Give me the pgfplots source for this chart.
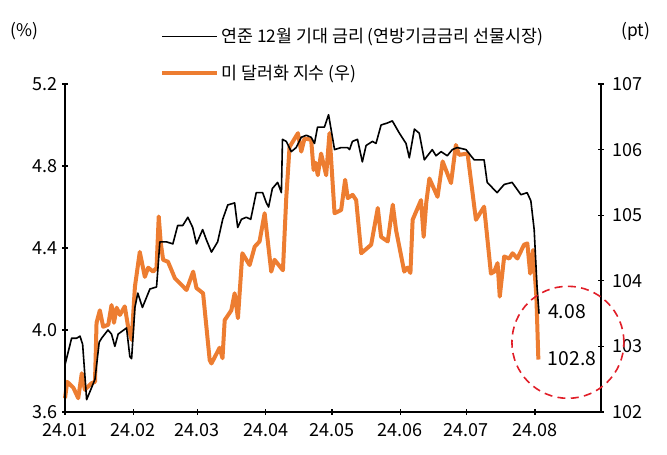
\documentclass[border=0pt]{standalone}
\usepackage{fontspec}
\setmainfont{Noto Sans CJK KR}
\usepackage{pgfplots}
\pgfplotsset{compat=1.18}
\definecolor{dxy}{RGB}{237,125,49}
\definecolor{circ}{RGB}{225,30,40}

% x = days since 2024-01-01
\begin{document}
\begin{tikzpicture}[x=1pt,y=1pt]
\useasboundingbox (-48.75,-31.5) rectangle (451.5,309);
\pgfplotsset{
  common/.style={
    width=402pt, height=246pt, scale only axis,
    at={(0,0)}, anchor=south west,
    xmin=0, xmax=243,
    tick label style={font=\fontsize{13.5}{15}\selectfont},
    /pgf/number format/assume math mode=true,
    tick align=outside, major tick length=4pt,
    tick style={line width=1pt, black},
    clip=false,
  },
  nolinearrows/.style={
    every outer x axis line/.append style={-},
    every outer y axis line/.append style={-},
    every inner x axis line/.append style={-},
    every inner y axis line/.append style={-},
    axis line style={-, line width=1pt},
  },
}
% US dollar index (right axis)
\begin{axis}[common,
  axis x line=none, axis y line=right, nolinearrows,
  ymin=102, ymax=107, ytick={102,103,104,105,106,107},
  yticklabel style={xshift=3pt}]
\addplot[dxy, line width=3pt, line join=round] coordinates {
(0,102.21) (1.0,102.46) (3.8,102.37) (6.0,102.21) (7.6,102.59) (9.0,102.34)
(12.1,102.44) (13.6,102.46) (14.3,103.36) (15.8,103.55) (17.3,103.30) (19.6,103.33)
(21.1,103.63) (22.2,103.36) (23.4,103.59) (24.9,103.48) (27.1,103.61) (28.6,103.30)
(30.2,103.10) (31.7,103.91) (33.9,104.44) (36.2,104.06) (37.7,104.20) (40.0,104.14)
(41.5,104.20) (42.5,104.98) (43.4,104.58) (44.5,104.32) (46.7,104.29) (49.8,104.04)
(55.1,103.86) (58.1,104.14) (59.6,103.89) (62.6,103.81) (65.6,102.79) (66.4,102.74)
(70.1,102.98) (71.4,102.82) (72.4,103.40) (75.4,103.55) (76.9,103.81) (78.4,103.43)
(80.4,104.42) (83.7,104.24) (86.0,104.52) (88.2,104.60) (90.5,105.03) (93.5,104.14)
(95.0,104.32) (98.8,104.16) (100.3,105.26) (101.8,106.04) (105.6,106.25) (107.1,105.97)
(108.6,106.17) (111.6,106.15) (112.7,105.69) (113.6,105.80) (114.6,105.61) (116.1,105.94)
(118.4,105.61) (119.9,106.25) (122.2,105.03) (125.2,105.08) (127.0,105.54) (128.2,105.26)
(130.4,105.31) (132.0,105.23) (134.3,104.42) (138.8,104.55) (141.8,105.11) (143.3,104.67)
(146.3,104.60) (148.6,105.16) (150.1,104.77) (153.8,104.14) (155.2,104.20) (156.6,104.12)
(157.6,104.93) (161.4,105.23) (162.6,104.67) (163.8,105.20) (165.2,105.56) (168.9,105.28)
(171.2,105.82) (175.0,105.49) (177.2,106.07) (178.7,105.92) (182.5,105.94) (186.3,104.93)
(190.0,105.13) (193.1,104.11) (194.6,104.14) (196.1,104.27) (197.1,103.76) (199.1,104.37)
(201.4,104.34) (202.9,104.42) (205.1,104.34) (208.1,104.55) (209.6,104.57) (210.9,104.11)
(212.2,104.47) (213.7,103.76) (214.6,102.80)
};
\node[font=\fontsize{13}{15}\selectfont] at (rel axis cs:1.065,1.16) {(pt)};
\end{axis}
% Fed funds futures implied year-end rate (left axis)
\begin{axis}[common,
  axis x line=bottom, axis y line=left, nolinearrows,
  ymin=3.6, ymax=5.2, ytick={3.6,4.0,4.4,4.8,5.2},
  yticklabel style={/pgf/number format/.cd, fixed, fixed zerofill, precision=1},
  xtick={0,31,60,91,121,152,182,213},
  xticklabels={24.01,24.02,24.03,24.04,24.05,24.06,24.07,24.08},
  xticklabel style={yshift=-3pt},
  legend style={at={(rel axis cs:0.177,1.0)}, anchor=south west, draw=none, fill=none,
    inner sep=0pt, font=\fontsize{13}{15}\selectfont, row sep=11pt, cells={anchor=west}},
  legend image code/.code={\draw[#1] (0pt,0pt) -- (41pt,0pt);},
  ]
\addplot[black, line width=1.2pt, line join=round] coordinates {
(0,3.83) (3.0,3.96) (5.3,3.96) (6.8,3.97) (8.0,3.93) (9.8,3.66) (12.1,3.72) (13.6,3.76)
(15.5,3.94) (16.6,3.96) (19.5,4.00) (21.1,3.98) (22.6,3.92) (24.1,3.98) (27.9,4.01)
(29.4,3.87) (30.2,3.86) (31.7,4.11) (33.0,4.18) (35.1,4.11) (38.5,4.20) (41.5,4.21)
(42.2,4.31) (43.0,4.43) (46.0,4.43) (48.9,4.42) (51.1,4.51) (53.4,4.51) (55.7,4.55)
(57.9,4.50) (59.6,4.42) (62.4,4.49) (64.1,4.44) (66.4,4.38) (69.2,4.43) (71.5,4.54)
(73.8,4.61) (76.9,4.62) (78.3,4.50) (80.0,4.54) (82.2,4.55) (84.2,4.54) (86.7,4.67)
(89.6,4.67) (91.3,4.62) (92.3,4.60) (94.0,4.69) (96.4,4.72) (98.1,4.67) (98.6,4.93)
(100.3,4.92) (102.6,4.87) (104.8,4.89) (107.1,4.94) (109.4,4.95) (111.6,4.94) (113.1,4.91)
(114.5,4.99) (117.6,4.99) (119.5,5.05) (122.2,4.88) (125.2,4.89) (128.1,4.89) (129.0,4.88)
(130.3,4.92) (132.6,4.93) (134.8,4.82) (136.5,4.90) (139.4,4.92) (141.0,4.91) (143.3,5.00)
(146.2,5.01) (148.4,5.02) (151.6,4.96) (154.6,4.91) (156.1,4.84) (158.4,4.98) (160.6,4.96)
(162.9,4.83) (166.5,4.88) (168.2,4.85) (170.5,4.87) (173.3,4.85) (175.6,4.88) (177.8,4.89)
(181.8,4.88) (184.0,4.85) (185.5,4.83) (190.0,4.83) (191.4,4.72) (195.9,4.67) (199.1,4.71)
(202.7,4.72) (206.7,4.66) (209.5,4.67) (211.2,4.63) (212.7,4.49) (214.0,4.21) (214.9,4.08)
};
\addlegendentry{연준 12월 기대 금리 (연방기금금리 선물시장)}
\addlegendimage{dxy, line width=3pt}
\addlegendentry{미 달러화 지수 (우)}
\node[font=\fontsize{13}{15}\selectfont] at (rel axis cs:-0.075,1.16) {(\%)};
\draw[circ, line width=1.2pt, dash pattern=on 6pt off 4pt] (axis cs:228,3.94) circle[radius=42pt];
\node[font=\fontsize{14.5}{16}\selectfont] at (axis cs:227.6,4.088) {4.08};
\node[font=\fontsize{14.5}{16}\selectfont] at (axis cs:229.9,3.86) {102.8};
\end{axis}
\end{tikzpicture}
\end{document}
